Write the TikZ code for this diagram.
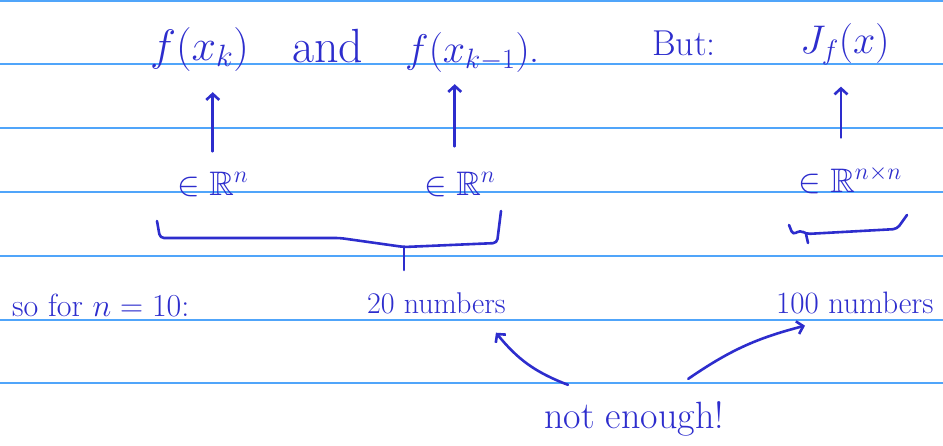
\RequirePackage{fix-cm}
\documentclass[tikz,border=0pt]{standalone}
\usepackage{amssymb}
\usepackage[svgnames]{xcolor}
\usetikzlibrary{arrows.meta}
\definecolor{inkblue}{RGB}{45,45,205}
\definecolor{ruleblue}{RGB}{80,165,250}

\begin{document}
\begin{tikzpicture}[x=1pt,y=-1pt,
  ink/.style={text=inkblue,inner sep=0pt,anchor=base west},
  ruled_line/.style={draw=ruleblue,line width=1.6pt},
  pen/.style={draw=inkblue,line width=2.6pt,line cap=round,line join=round},
  pointer/.style={pen,-{Straight Barb[length=6pt,width=13pt]}}]

\useasboundingbox (0,0) rectangle (943,445);
\foreach \y in {1,64,128,192,256,320,383}{\draw[ruled_line] (0,\y) -- (943,\y);}

% top row
\node[ink,font=\fontsize{44}{48}\selectfont] (fxk) at (150,60) {$f(x_k)$};
\node[ink,font=\fontsize{48}{52}\selectfont] (and) at (292,62) {and};
\node[ink,font=\fontsize{40}{44}\selectfont] (fxk1) at (405,62) {$f(x_{k-1})$.};
\node[ink,font=\fontsize{36}{40}\selectfont] (but) at (652,55) {But:};
\node[ink,font=\fontsize{40}{44}\selectfont] (jac) at (800,53) {$J_f(x)$};

% spaces
\node[ink,font=\fontsize{34}{38}\selectfont] (rn1) at (177,195) {$\in\mathbb{R}^n$};
\node[ink,font=\fontsize{34}{38}\selectfont] (rn2) at (424,195) {$\in\mathbb{R}^n$};
\node[ink,font=\fontsize{34}{38}\selectfont] (rnn) at (798,192) {$\in\mathbb{R}^{n\times n}$};

\draw[pointer,shorten <=20pt,shorten >=21pt] (rn1.north) -- (rn1.north |- fxk.south);
\draw[pointer,shorten <=25pt,shorten >=12pt] ([xshift=-5pt]rn2.north) -- ([xshift=-5pt]rn2.north |- fxk1.south);
\draw[pointer,shorten <=28pt,shorten >=22pt] ([xshift=-9pt]rnn.north) -- ([xshift=-9pt]rnn.north |- jac.south);

% braces
\coordinate (b_left) at (157,221);
\coordinate (b_tip) at (404,247);
\coordinate (b_right) at (501,211);
\draw[pen,rounded corners=4pt] (b_left) -- (160,238) -- (340,238) -- (b_tip) -- (497,243) -- (b_right);
\draw[pen] (b_tip) -- (404,270);

\coordinate (s_left) at (789,225);
\coordinate (s_tip) at (806,234);
\coordinate (s_right) at (907,215);
\draw[pen,rounded corners=4pt] (s_left) -- (793,235) -- (800,230) -- (s_tip) -- (897,229) -- (s_right);
\draw[pen] (s_tip) -- (808,243);

% counts
\node[ink,font=\fontsize{32}{36}\selectfont] (sofor) at (12,316) {so for $n=10$:};
\node[ink,font=\fontsize{30}{34}\selectfont] (twenty) at (367,313) {20 numbers};
\node[ink,font=\fontsize{31}{35}\selectfont] (hundred) at (776,313) {100 numbers};
\node[ink,font=\fontsize{38}{42}\selectfont] (enough) at (544,428) {not enough!};

\draw[pointer] ([shift={(24,-16)}]enough.north west) to[bend left=15] ([shift={(-10,19)}]twenty.south east);
\draw[pointer] ([shift={(-36,-22)}]enough.north east) to[bend left=10] ([shift={(29,12)}]hundred.south west);

\end{tikzpicture}
\end{document}
